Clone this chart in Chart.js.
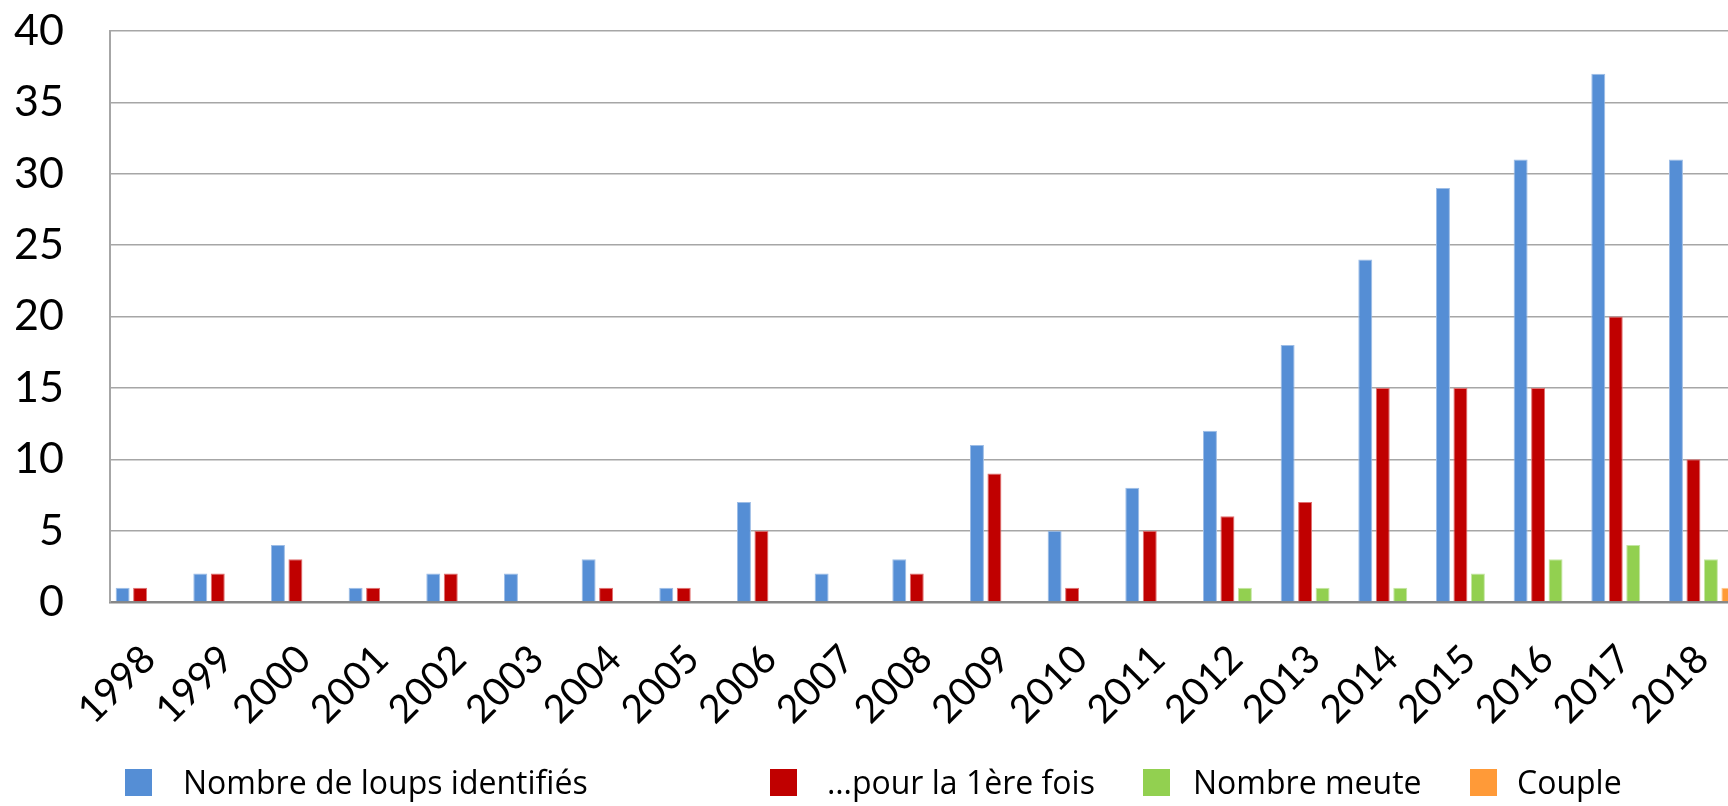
<!DOCTYPE html>
<html>
<head>
<meta charset="utf-8">
<script src="https://cdn.jsdelivr.net/npm/chart.js@4"></script>
<style>
  html, body { margin: 0; padding: 0; background: #fff; overflow: hidden; }
  #wrap { position: relative; width: 1745px; height: 806px; }
  .key { position: absolute; top: 769px; width: 27px; height: 27px; }
  .lbl { position: absolute; top: 766px; font-family: "Open Sans", sans-serif; font-size: 32px; line-height: 32px; color: #000; white-space: nowrap; }
</style>
</head>
<body>
<div id="wrap">
  <canvas id="chart"></canvas>
</div>
<script>
const years = ['1998', '1999', '2000', '2001', '2002', '2003', '2004', '2005', '2006', '2007', '2008',
               '2009', '2010', '2011', '2012', '2013', '2014', '2015', '2016', '2017', '2018'];
const loups     = [1, 2, 4, 1, 2, 2, 3, 1, 7, 2, 3, 11, 5, 8, 12, 18, 24, 29, 31, 37, 31];
const premiere  = [1, 2, 3, 1, 2, 0, 1, 1, 5, 0, 2, 9, 1, 5, 6, 7, 15, 15, 15, 20, 10];
const meute     = [0, 0, 0, 0, 0, 0, 0, 0, 0, 0, 0, 0, 0, 0, 1, 1, 1, 2, 3, 4, 3];
const couple    = [0, 0, 0, 0, 0, 0, 0, 0, 0, 0, 0, 0, 0, 0, 0, 0, 0, 0, 0, 0, 1];
const seriesNames = ['Nombre de loups identifiés', '…pour la 1ère fois', 'Nombre meute', 'Couple'];
const yTicks = [0, 5, 10, 15, 20, 25, 30, 35, 40];

const colors = ['#558ED5', '#C00000', '#92D050', '#FF9A38'];
const edges  = ['#9DBDE6', '#E07070', '#C4E6A4', '#FFC890'];

// legend in html, placed like the excel one
const legendX = [[125, 183], [770, 827], [1143, 1193], [1470, 1517]];
const wrap = document.getElementById('wrap');
seriesNames.forEach((name, i) => {
    const k = document.createElement('div');
    k.className = 'key';
    k.style.left = legendX[i][0] + 'px';
    k.style.background = colors[i];
    wrap.appendChild(k);
    const t = document.createElement('div');
    t.className = 'lbl';
    t.style.left = legendX[i][1] + 'px';
    t.textContent = name;
    wrap.appendChild(t);
});

const mk = (i, data) => ({
    label: seriesNames[i],
    data: data,
    backgroundColor: colors[i],
    borderColor: edges[i],
    borderWidth: 1,
    categoryPercentage: 0.9,
    barPercentage: 0.8
});

new Chart(document.getElementById('chart'), {
    type: 'bar',
    data: {
        labels: years,
        datasets: [mk(0, loups), mk(1, premiere), mk(2, meute), mk(3, couple)]
    },
    options: {
        responsive: true,
        maintainAspectRatio: false,
        animation: false,
        layout: { padding: { top: 31, right: 4, bottom: 0, left: 0 } },
        plugins: {
            legend: { display: false },
            tooltip: { enabled: false }
        },
        scales: {
            x: {
                grid: { display: false, drawTicks: false },
                border: { display: true, color: '#878787', width: 2.5 },
                ticks: {
                    color: '#000',
                    font: { family: 'Lato', size: 39 },
                    maxRotation: 45,
                    minRotation: 45,
                    padding: 34,
                    autoSkip: false
                },
                afterFit: (scale) => {
                    scale.height = 204;
                    scale.paddingLeft = 0;
                    scale.paddingRight = 0;
                }
            },
            y: {
                min: 0,
                max: 40,
                afterBuildTicks: (scale) => { scale.ticks = yTicks.map(v => ({ value: v })); },
                grid: { color: '#A6A6A6', lineWidth: 1.5, drawTicks: false },
                border: { display: true, color: '#A6A6A6', width: 2 },
                ticks: {
                    color: '#000',
                    font: { family: 'Lato', size: 43 },
                    padding: 46
                },
                afterFit: (scale) => {
                    scale.width = 110;
                    scale.paddingTop = 0;
                    scale.paddingBottom = 0;
                }
            }
        }
    }
});
</script>
</body>
</html>
